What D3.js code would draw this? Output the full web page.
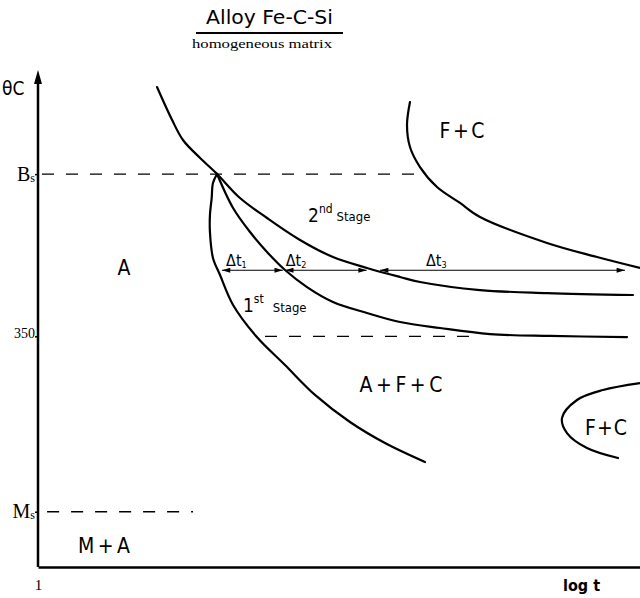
<!DOCTYPE html>
<html>
<head>
<meta charset="utf-8">
<script src="https://cdn.jsdelivr.net/npm/d3@7"></script>
<style>
  body { margin: 0; background: #fff; }
  svg { display: block; }
</style>
</head>
<body>
<div id="chart"></div>
<script>
// schematic TTT diagram : temperature vs log t

const yTickValues = [204, 350, 485];
const yTickLabels = ["Ms", "350", "Bs"];
const xTickValues = [1];
const xTickLabels = ["1"];

// curves as [t, theta]
const startCurve = [[30.7, 485.1], [28.4, 477.6], [27.7, 465.1], [26.8, 451], [26.8, 436.8], [28.4, 415.2],
  [32.5, 401], [41.7, 376.1], [64.6, 350.3], [112.6, 326.1], [199.8, 301.2],
  [390, 278.7], [762, 261.2], [1638, 245.4]];
const stage1Curve = [[30.7, 485.1], [41.7, 456.8], [57.7, 436.8], [79.8, 420.2], [112.6, 405.2], [171.5, 391],
  [281.9, 378.6], [540, 369.4], [1015, 361.9], [2183, 356.9], [5679, 351.9], [17880, 350.3], [78000, 349.4]];
const stage2Curve = [[9.74, 557.5], [13.0, 530], [16.0, 513.4], [22.2, 498.4], [30.7, 485.1], [47.6, 465.1],
  [79.8, 448.5], [150, 430.2], [281.9, 416], [540, 406.9], [1015, 399.4], [1489, 395.2], [4690, 388.5],
  [16890, 386], [87480, 384.4]];
const fcUpperCurve = [[1229, 545], [1161, 525.9], [1229, 507.6], [1489, 490.9], [2061, 474.3], [3199, 461],
  [4690, 449.3], [16890, 427.7], [43950, 416], [100000, 406.9]];
const fcLowerCurve = [[100000, 311.1], [49280, 305.3], [29980, 297], [22500, 282], [24760, 269.5],
  [36290, 257], [65670, 248.7]];

// dashed levels: [t0, t1, theta]
const levelLines = [[1.08, 1490, 485], [76.8, 3873, 350], [1.19, 19.4, 204]];

// delta t arrows at theta = 405
const arrowTheta = 405;
const arrowSpans = [[33.7, 108], [113, 537], [693, 75000]];
const arrowLabels = [["1", 36.5], ["2", 114], ["3", 1670]];

// region labels: text, t, theta, width
const regionLabels = [
  ["A", 5.18, 401, 14],
  ["F + C", 3324, 515, 45],
  ["A + F + C", 1035, 303.7, 83],
  ["F + C", 52200, 267.9, 42],
  ["M + A", 3.53, 169.7, 52]
];

const width = 640, height = 598;
const sans = "'Liberation Sans Narrow', 'DejaVu Sans Condensed', 'Liberation Sans', sans-serif";
const serif = "'Liberation Serif', 'DejaVu Serif', serif";

const x = d3.scaleLog().domain([1, 1e5]).range([38, 640]);
const y = d3.scaleLinear().domain([158, 570]).range([567, 72]);

const svg = d3.select("#chart").append("svg")
  .attr("width", width)
  .attr("height", height);

const defs = svg.append("defs");
defs.append("marker")
  .attr("id", "head")
  .attr("viewBox", "0 0 10 6")
  .attr("refX", 10).attr("refY", 3)
  .attr("markerWidth", 9).attr("markerHeight", 5)
  .attr("markerUnits", "userSpaceOnUse")
  .attr("orient", "auto-start-reverse")
  .append("path")
  .attr("d", "M0,0L10,3L0,6Z")
  .attr("fill", "#000");

// title
svg.append("text")
  .attr("x", 206).attr("y", 24)
  .attr("textLength", 127).attr("lengthAdjust", "spacingAndGlyphs")
  .style("font", `20px ${sans}`)
  .text("Alloy  Fe-C-Si");
svg.append("line")
  .attr("x1", 196).attr("x2", 343).attr("y1", 33).attr("y2", 33)
  .attr("stroke", "#000").attr("stroke-width", 2);
svg.append("text")
  .attr("x", 192).attr("y", 48)
  .attr("textLength", 140).attr("lengthAdjust", "spacingAndGlyphs")
  .style("font", `12px ${serif}`)
  .text("homogeneous  matrix");

// axes
const yAxis = svg.append("g")
  .attr("transform", `translate(${x(1)},0)`)
  .call(d3.axisLeft(y).tickValues(yTickValues).tickSize(3).tickSizeOuter(0)
    .tickFormat((d, i) => yTickLabels[i]));
yAxis.select(".domain").attr("stroke-width", 2.5).attr("d", `M0,${y.range()[0]}V${y.range()[1] + 8}`);
yAxis.selectAll(".tick line").attr("stroke-width", 1.5);
yAxis.selectAll(".tick text").each(function (d, i) {
  const lab = yTickLabels[i];
  const t = d3.select(this).text(null).attr("x", -3).attr("fill", "#000");
  if (/^[A-Z][a-z]$/.test(lab)) {
    t.style("font", `20px ${serif}`).attr("dy", "0.3em");
    t.append("tspan").text(lab[0]);
    t.append("tspan").style("font-size", "12px").attr("dy", 1).text(lab[1]);
  } else {
    t.style("font", `14px ${serif}`).attr("dy", "0.1em").text(lab);
  }
});
svg.append("path")
  .attr("d", `M${x(1)},${y.range()[1] - 2}l-4,14h8z`)
  .attr("fill", "#000");

const xAxis = svg.append("g")
  .attr("transform", `translate(0,${y.range()[0]})`)
  .call(d3.axisBottom(x).tickValues(xTickValues).tickSize(0).tickSizeOuter(0)
    .tickFormat((d, i) => xTickLabels[i]));
xAxis.select(".domain").attr("stroke-width", 2.5);
xAxis.selectAll(".tick text")
  .attr("y", 12).attr("fill", "#000")
  .style("font", `15px ${serif}`);

svg.append("text")
  .attr("x", 2).attr("y", 95)
  .style("font", `19px ${sans}`)
  .text("θC");
svg.append("text")
  .attr("x", 563).attr("y", 591)
  .style("font", `bold 16px ${sans}`)
  .text("log t");

// dashed levels
svg.append("g")
  .selectAll("line")
  .data(levelLines)
  .join("line")
  .attr("x1", d => x(d[0])).attr("x2", d => x(d[1]))
  .attr("y1", d => y(d[2])).attr("y2", d => y(d[2]))
  .attr("stroke", "#000")
  .attr("stroke-width", 1.3)
  .attr("stroke-dasharray", "12,12");

// curves
const line = d3.line()
  .x(d => x(d[0]))
  .y(d => y(d[1]))
  .curve(d3.curveCatmullRom.alpha(0.5));

svg.append("g")
  .selectAll("path")
  .data([startCurve, stage1Curve, stage2Curve, fcUpperCurve, fcLowerCurve])
  .join("path")
  .attr("d", line)
  .attr("fill", "none")
  .attr("stroke", "#000")
  .attr("stroke-width", 2.2)
  .attr("stroke-linecap", "round");

// delta t arrows
svg.append("g")
  .selectAll("line")
  .data(arrowSpans)
  .join("line")
  .attr("x1", d => x(d[0])).attr("x2", d => x(d[1]))
  .attr("y1", y(arrowTheta)).attr("y2", y(arrowTheta))
  .attr("stroke", "#000")
  .attr("stroke-width", 1.2)
  .attr("marker-start", "url(#head)")
  .attr("marker-end", "url(#head)");

const dt = svg.append("g")
  .selectAll("text")
  .data(arrowLabels)
  .join("text")
  .attr("x", d => x(d[1]))
  .attr("y", y(arrowTheta) - 4)
  .style("font", `16px ${sans}`);
dt.append("tspan").text("Δt");
dt.append("tspan").attr("dy", 2).style("font-size", "9px").text(d => d[0]);

// stage labels
const stage2 = svg.append("text")
  .attr("x", x(174.8)).attr("y", y(445.1))
  .style("font", `19px ${sans}`);
stage2.append("tspan").text("2");
stage2.append("tspan").attr("dy", -9).style("font-size", "12px").text("nd");
stage2.append("tspan").attr("dx", 4).attr("dy", 8).style("font-size", "13px").text("Stage");

const stage1 = svg.append("text")
  .attr("x", x(50.4)).attr("y", y(370.2))
  .style("font", `19px ${sans}`);
stage1.append("tspan").text("1");
stage1.append("tspan").attr("dy", -9).style("font-size", "12px").text("st");
stage1.append("tspan").attr("dx", 9).attr("dy", 9).style("font-size", "13px").text("Stage");

// region labels
svg.append("g")
  .selectAll("text")
  .data(regionLabels)
  .join("text")
  .attr("x", d => x(d[1]))
  .attr("y", d => y(d[2]))
  .attr("text-anchor", "middle")
  .attr("textLength", d => d[3])
  .attr("lengthAdjust", "spacing")
  .style("font", `21px ${sans}`)
  .text(d => d[0]);
</script>
</body>
</html>
